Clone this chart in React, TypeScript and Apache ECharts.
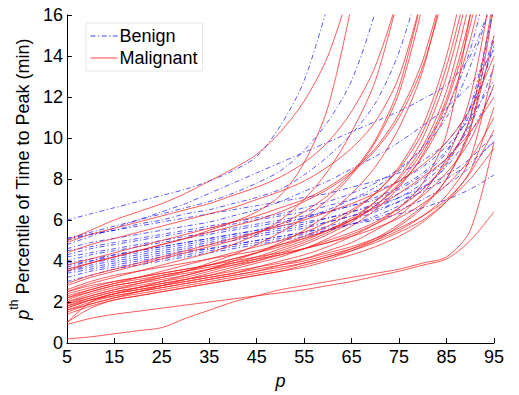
import React, { useEffect, useRef } from "react";
import * as echarts from "echarts";

const P = [5, 10, 15, 20, 25, 30, 35, 40, 45, 50, 55, 60, 65, 70, 75, 80, 85, 90, 95];
const X_TICKS = [5, 15, 25, 35, 45, 55, 65, 75, 85, 95];

const BENIGN: number[][] = [
  [6.0, 6.3, 6.6, 6.9, 7.2, 7.5, 7.9, 8.4, 9.1, 10.6, 12.8, 16.5],
  [5.1, 5.4, 5.7, 6.0, 6.3, 6.6, 6.9, 7.3, 7.8, 8.4, 9.4, 10.8, 12.8, 16.2, 21],
  [5.0, 5.3, 5.5, 5.8, 6.0, 6.3, 6.5, 6.8, 7.1, 7.5, 8.2, 9.1, 10.2, 11.7, 14.2, 18],
  [4.6, 4.9, 5.1, 5.3, 5.5, 5.7, 5.9, 6.2, 6.5, 6.9, 7.4, 7.9, 8.5, 9.1, 9.8, 10.6, 11.5, 12.6, 14.3],
  [4.8, 5.2, 5.6, 6.0, 6.4, 6.8, 7.3, 7.8, 8.3, 8.8, 9.3, 9.8, 10.3, 10.8, 11.3, 11.9, 12.6, 14.0, 17],
  [4.5, 4.7, 4.9, 5.1, 5.3, 5.5, 5.7, 5.9, 6.1, 6.3, 6.6, 6.9, 7.3, 7.8, 8.5, 9.5, 11.0, 13.5, 17],
  [4.3, 4.6, 4.8, 5.0, 5.2, 5.4, 5.6, 5.8, 6.0, 6.2, 6.4, 6.7, 7.0, 7.4, 7.9, 8.6, 9.6, 11.0, 12.8],
  [4.2, 4.4, 4.6, 4.8, 5.0, 5.2, 5.4, 5.6, 5.8, 6.0, 6.2, 6.4, 6.7, 7.0, 7.5, 8.2, 9.3, 11.5, 16.5],
  [4.0, 4.3, 4.5, 4.7, 4.9, 5.1, 5.3, 5.5, 5.7, 5.9, 6.1, 6.4, 6.7, 7.1, 7.6, 8.3, 9.4, 11.2, 14.5],
  [3.9, 4.1, 4.3, 4.5, 4.7, 4.9, 5.1, 5.3, 5.5, 5.7, 5.9, 6.1, 6.4, 6.7, 7.1, 7.6, 8.2, 9.0, 10.2],
  [3.8, 4.0, 4.2, 4.4, 4.6, 4.8, 5.0, 5.2, 5.4, 5.6, 5.8, 6.1, 6.4, 6.8, 7.3, 8.0, 9.0, 10.6, 13.5],
  [3.6, 3.9, 4.1, 4.3, 4.5, 4.7, 4.9, 5.1, 5.3, 5.5, 5.7, 5.9, 6.2, 6.5, 6.9, 7.4, 8.0, 8.8, 9.8],
  [3.5, 3.8, 4.0, 4.2, 4.4, 4.6, 4.8, 5.0, 5.2, 5.4, 5.6, 5.9, 6.2, 6.6, 7.1, 7.8, 8.9, 10.8, 14.8],
  [3.5, 3.7, 3.9, 4.1, 4.3, 4.5, 4.6, 4.8, 5.0, 5.2, 5.4, 5.6, 5.8, 6.0, 6.3, 6.6, 7.0, 7.5, 8.2],
  [3.4, 3.6, 3.8, 4.0, 4.2, 4.4, 4.6, 4.8, 5.0, 5.2, 5.4, 5.7, 6.0, 6.4, 6.9, 7.6, 8.6, 10.2, 12.5],
  [3.2, 3.5, 3.7, 3.9, 4.1, 4.3, 4.5, 4.7, 4.9, 5.1, 5.3, 5.5, 5.8, 6.1, 6.5, 7.0, 7.7, 8.6, 9.9],
  [3.0, 3.3, 3.6, 3.8, 4.0, 4.2, 4.4, 4.6, 4.8, 5.0, 5.2, 5.5, 5.8, 6.2, 6.7, 7.5, 8.7, 11.0, 16.5],
  [5.1, 5.3, 5.5, 5.7, 5.9, 6.1, 6.3, 6.5, 6.7, 6.9, 7.1, 7.3, 7.6, 7.9, 8.3, 8.9, 9.8, 11.5, 15.0],
  [3.7, 4.0, 4.3, 4.5, 4.7, 4.9, 5.1, 5.3, 5.5, 5.8, 6.1, 6.5, 7.0, 7.6, 8.4, 9.6, 11.4, 14.3, 19],
];

const MALIGNANT: number[][] = [
  [5.0, 5.5, 6.0, 6.4, 6.8, 7.3, 7.9, 8.5, 9.2, 10.3, 11.8, 14.0, 17.5],
  [3.6, 3.9, 4.2, 4.5, 4.8, 5.1, 5.5, 5.9, 6.4, 7.2, 8.8, 11.5, 16.5],
  [4.9, 5.3, 5.6, 5.9, 6.2, 6.5, 6.8, 7.2, 7.6, 8.1, 8.8, 9.8, 11.3, 13.5, 17],
  [2.5, 2.9, 3.2, 3.5, 3.8, 4.1, 4.4, 4.8, 5.3, 6.0, 7.0, 8.4, 10.3, 12.8, 17],
  [4.4, 4.8, 5.1, 5.4, 5.7, 6.0, 6.3, 6.6, 7.0, 7.4, 7.9, 8.6, 9.5, 10.8, 13.0, 17],
  [2.8, 3.2, 3.5, 3.8, 4.1, 4.4, 4.7, 5.0, 5.4, 5.8, 6.4, 7.2, 8.3, 9.9, 12.5, 17],
  [3.8, 4.1, 4.4, 4.7, 5.0, 5.3, 5.6, 5.9, 6.2, 6.6, 7.0, 7.6, 8.4, 9.5, 11.2, 13.8, 18],
  [2.3, 2.6, 2.9, 3.2, 3.5, 3.8, 4.1, 4.4, 4.7, 5.0, 5.4, 5.9, 6.5, 7.3, 8.5, 10.3, 13.5, 18],
  [2.1, 2.5, 2.8, 3.0, 3.3, 3.5, 3.8, 4.1, 4.4, 4.8, 5.2, 5.7, 6.4, 7.3, 8.6, 10.6, 14.0, 19],
  [1.9, 2.3, 2.6, 2.8, 3.0, 3.2, 3.5, 3.8, 4.1, 4.5, 4.9, 5.4, 6.0, 6.9, 8.1, 10.0, 13.0, 17.5],
  [2.0, 2.4, 2.7, 2.9, 3.1, 3.3, 3.6, 3.9, 4.2, 4.6, 5.0, 5.5, 6.1, 6.9, 8.0, 9.6, 12.3, 16.8],
  [1.8, 2.2, 2.5, 2.7, 2.9, 3.1, 3.3, 3.6, 3.9, 4.2, 4.6, 5.1, 5.7, 6.5, 7.6, 9.2, 11.7, 15.5, 21],
  [2.4, 2.7, 3.0, 3.2, 3.4, 3.6, 3.8, 4.1, 4.4, 4.7, 5.1, 5.5, 6.0, 6.7, 7.7, 9.1, 11.3, 14.8, 20],
  [1.7, 2.1, 2.4, 2.6, 2.8, 3.0, 3.2, 3.4, 3.7, 4.0, 4.3, 4.7, 5.2, 5.8, 6.6, 7.8, 10.2, 16.0, 22],
  [1.6, 2.0, 2.3, 2.5, 2.7, 2.9, 3.1, 3.3, 3.5, 3.8, 4.1, 4.5, 4.9, 5.5, 6.2, 7.3, 9.0, 12.0, 18],
  [2.2, 2.5, 2.8, 3.0, 3.2, 3.4, 3.6, 3.8, 4.0, 4.3, 4.6, 5.0, 5.4, 5.9, 6.6, 7.5, 8.8, 11.0, 17],
  [1.5, 1.9, 2.2, 2.4, 2.6, 2.8, 3.0, 3.2, 3.4, 3.6, 3.9, 4.2, 4.6, 5.1, 5.8, 6.7, 8.0, 10.4, 16.5],
  [1.0, 2.0, 2.4, 2.6, 2.8, 3.0, 3.2, 3.4, 3.6, 3.8, 4.0, 4.3, 4.6, 5.0, 5.5, 6.2, 7.2, 9.0, 13.6],
  [2.6, 3.0, 3.3, 3.5, 3.7, 3.9, 4.1, 4.3, 4.5, 4.8, 5.1, 5.5, 6.0, 6.6, 7.3, 8.1, 9.0, 10.3, 12.0],
  [1.9, 2.2, 2.5, 2.7, 2.9, 3.1, 3.3, 3.5, 3.7, 3.9, 4.1, 4.4, 4.7, 5.1, 5.6, 6.2, 7.0, 8.3, 10.4],
  [0.2, 0.3, 0.45, 0.6, 0.75, 1.2, 1.6, 2.0, 2.3, 2.6, 2.8, 3.0, 3.2, 3.4, 3.6, 3.9, 4.2, 5.5, 9.8],
  [0.9, 1.2, 1.4, 1.55, 1.7, 1.85, 2.0, 2.15, 2.3, 2.45, 2.6, 2.8, 3.0, 3.25, 3.5, 3.8, 4.1, 5.0, 6.4],
  [2.0, 2.3, 2.6, 2.9, 3.2, 3.5, 3.9, 4.3, 4.8, 5.4, 6.1, 7.0, 8.2, 9.8, 12.2, 16.5],
  [1.7, 2.1, 2.4, 2.7, 3.0, 3.3, 3.6, 4.0, 4.4, 4.9, 5.5, 6.3, 7.3, 8.6, 10.5, 13.3, 18],
  [2.5, 2.8, 3.0, 3.2, 3.4, 3.6, 3.8, 4.0, 4.2, 4.4, 4.6, 4.9, 5.2, 5.6, 6.1, 6.8, 7.7, 9.0, 11.0],
  [1.0, 1.7, 2.1, 2.3, 2.5, 2.7, 2.9, 3.1, 3.3, 3.5, 3.8, 4.1, 4.5, 5.0, 5.7, 6.6, 8.0, 10.5, 15.0],
  [2.9, 3.3, 3.6, 3.9, 4.2, 4.5, 4.8, 5.1, 5.4, 5.7, 6.0, 6.4, 6.8, 7.3, 7.9, 8.7, 9.8, 11.4, 14.0],
  [3.5, 3.9, 4.2, 4.5, 4.8, 5.1, 5.4, 5.7, 6.0, 6.4, 6.9, 7.5, 8.3, 9.4, 11.0, 13.5, 17.5],
  [1.6, 1.9, 2.2, 2.5, 2.8, 3.1, 3.4, 3.7, 4.0, 4.4, 4.8, 5.3, 5.9, 6.7, 7.8, 9.4, 11.9, 16.0, 22],
  [2.2, 2.6, 2.9, 3.1, 3.3, 3.5, 3.7, 3.9, 4.1, 4.3, 4.6, 4.9, 5.3, 5.8, 6.4, 7.2, 8.3, 9.9, 12.6],
  [1.4, 1.8, 2.1, 2.3, 2.5, 2.7, 2.9, 3.1, 3.3, 3.5, 3.7, 4.0, 4.3, 4.7, 5.2, 5.9, 6.9, 8.4, 11.5],
  [1.8, 2.1, 2.3, 2.5, 2.7, 2.9, 3.1, 3.3, 3.5, 3.7, 3.9, 4.2, 4.5, 4.9, 5.4, 6.0, 6.9, 8.0, 9.5],
];

const FONT = "Liberation Sans, Arial, sans-serif";
const BLUE = "#0a0aff";
const RED = "#ff1a1a";

export default function App() {
  const ref = useRef<HTMLDivElement>(null);
  useEffect(() => {
    if (!ref.current) return;
    const chart = echarts.init(ref.current, undefined, { renderer: "svg" });
    const mk = (vals: number[], name: string, color: string, dashed: boolean) => ({
      type: "line",
      name,
      data: vals.map((v, i) => [P[i], v]),
      symbol: "none",
      showSymbol: false,
      smooth: 0.3,
      clip: true,
      silent: true,
      lineStyle: dashed
        ? { color, width: 0.85, type: [5, 2.5, 1.2, 2.5], opacity: 0.8 }
        : { color, width: 0.9, type: "solid", opacity: 0.8 },
      itemStyle: { color },
    });
    const series = [
      ...BENIGN.map((v) => mk(v, "Benign", BLUE, true)),
      ...MALIGNANT.map((v) => mk(v, "Malignant", RED, false)),
    ];
    chart.setOption({
      animation: false,
      grid: { left: 66, right: 25, top: 15, bottom: 43, containLabel: false },
      legend: {
        data: ["Benign", "Malignant"],
        orient: "vertical",
        left: 86,
        top: 23,
        itemWidth: 27,
        itemHeight: 10,
        itemGap: 4,
        padding: [4, 5, 4, 4],
        backgroundColor: "#ffffff",
        borderColor: "#e6e6e6",
        borderWidth: 1,
        itemStyle: { opacity: 0 },
        lineStyle: { width: 1 },
        textStyle: { fontFamily: FONT, fontSize: 18, color: "#000", padding: [0, 0, 0, -3] },
      },
      xAxis: {
        type: "value",
        min: 5,
        max: 95,
        interval: 10,
        name: "p",
        nameLocation: "middle",
        nameGap: 29,
        nameTextStyle: { fontFamily: FONT, fontSize: 18, fontStyle: "italic", color: "#000" },
        axisLine: { lineStyle: { color: "#000", width: 1 } },
        axisTick: { inside: true, length: 5, lineStyle: { color: "#000" } },
        axisLabel: {
          fontFamily: FONT,
          fontSize: 18,
          color: "#000",
          margin: 5,
          customValues: X_TICKS,
        },
        splitLine: { show: false },
      },
      yAxis: {
        type: "value",
        min: 0,
        max: 16,
        interval: 2,
        name: "{i|p}{s|th}{n| Percentile of Time to Peak (min)}",
        nameLocation: "middle",
        nameGap: 30,
        nameTextStyle: {
          fontFamily: FONT,
          fontSize: 18,
          color: "#000",
          rich: {
            i: { fontFamily: FONT, fontSize: 18, fontStyle: "italic", color: "#000", lineHeight: 24, verticalAlign: "bottom" },
            s: { fontFamily: FONT, fontSize: 12, color: "#000", lineHeight: 24, verticalAlign: "top", padding: [0, 0, 9, 0] },
            n: { fontFamily: FONT, fontSize: 18, color: "#000", lineHeight: 24, verticalAlign: "bottom" },
          },
        },
        axisLine: { show: true, lineStyle: { color: "#000", width: 1 } },
        axisTick: { show: true, inside: true, length: 5, lineStyle: { color: "#000" } },
        axisLabel: { fontFamily: FONT, fontSize: 18, color: "#000", margin: 4 },
        splitLine: { show: false },
      },
      series,
    });
    return () => chart.dispose();
  }, []);
  return <div ref={ref} style={{ width: 519, height: 395, position: "absolute", left: 0, top: 0 }} />;
}
